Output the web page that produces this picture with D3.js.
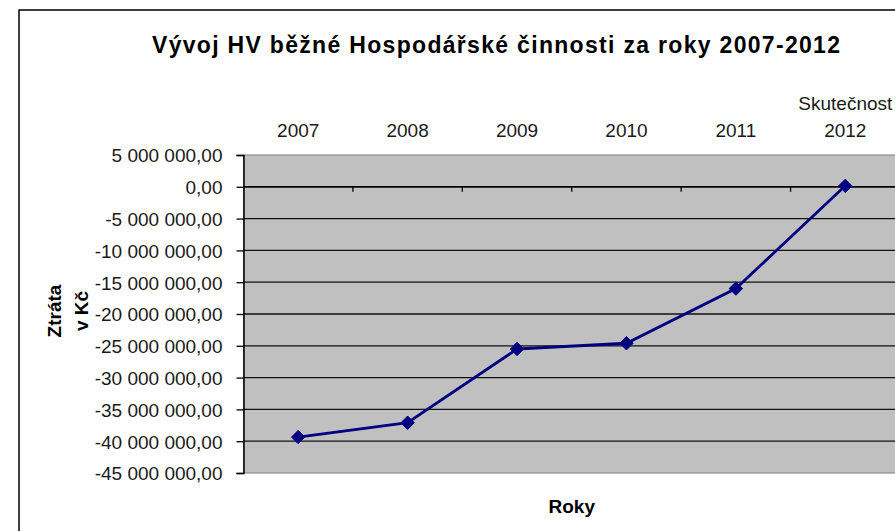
<!DOCTYPE html>
<html>
<head>
<meta charset="utf-8">
<script src="https://cdn.jsdelivr.net/npm/d3@7"></script>
<style>
  body { margin: 0; background: #fff; }
  svg text { font-family: "Liberation Sans", Arial, sans-serif; }
</style>
</head>
<body>
<div id="chart"></div>
<script>
// data
var categories = ["2007", "2008", "2009", "2010", "2011", "2012"];
var catLabels = [["2007"], ["2008"], ["2009"], ["2010"], ["2011"], ["Skutečnost", "2012"]];
var values = [-39350000, -37100000, -25500000, -24600000, -16000000, 150000];
var yDomain = [-45000000, 5000000];

var titleText = "Vývoj HV běžné Hospodářské činnosti za roky 2007-2012";
var yTitle = ["Ztráta", "v Kč"];
var xTitle = "Roky";

var W = 895, H = 531;
var plot = {left: 243.5, top: 155, right: 900, bottom: 473};

var svg = d3.select("#chart")
	.append("svg")
	.attr("width", W)
	.attr("height", H);

// outer chart frame (right and bottom fall outside the picture)
svg.append("rect")
	.attr("x", 19).attr("y", 10)
	.attr("width", 900).attr("height", 540)
	.style("fill", "#fff")
	.style("stroke", "#000")
	.style("stroke-width", 1.5);

var x = d3.scaleBand()
	.domain(categories)
	.range([plot.left, plot.right]);

var y = d3.scaleLinear()
	.domain(yDomain)
	.range([plot.bottom, plot.top]);

// plot area
svg.append("rect")
	.attr("x", plot.left).attr("y", plot.top)
	.attr("width", plot.right - plot.left)
	.attr("height", plot.bottom - plot.top)
	.style("fill", "#c0c0c0")
	.style("stroke", "#808080")
	.style("stroke-width", 1);

var loc = d3.formatLocale({decimal: ",", thousands: "\u00a0", grouping: [3], currency: ["", ""], minus: "-"});
var fmt = loc.format(",.2f");

// gridlines
var yTicks = y.ticks(10);
svg.append("g")
	.selectAll("line")
	.data(yTicks.filter(function(d){ return d > yDomain[0] && d < yDomain[1]; }))
	.enter()
	.append("line")
	.attr("x1", plot.left).attr("x2", plot.right)
	.attr("y1", function(d){ return y(d); })
	.attr("y2", function(d){ return y(d); })
	.style("stroke", "#111")
	.style("stroke-width", 1.3);

// y axis
var yAxis = svg.append("g")
	.attr("transform", "translate(" + plot.left + ",0)")
	.call(d3.axisLeft(y).ticks(10).tickSize(7).tickPadding(14).tickFormat(fmt));
yAxis.select(".domain").style("stroke", "#000").style("stroke-width", 1.5);
yAxis.selectAll(".tick line").style("stroke", "#000").style("stroke-width", 1.3);
yAxis.selectAll(".tick text")
	.style("font-size", "19px")
	.style("fill", "#1a1a1a")
	.attr("dy", "0.36em");

// category axis line at zero, ticks between categories
var x0 = svg.append("g").attr("transform", "translate(0," + y(0) + ")");
x0.append("line")
	.attr("x1", plot.left).attr("x2", plot.right)
	.style("stroke", "#000").style("stroke-width", 1.5);
x0.selectAll(".sep")
	.data(categories.slice(1))
	.enter()
	.append("line")
	.attr("class", "sep")
	.attr("x1", function(d){ return x(d); })
	.attr("x2", function(d){ return x(d); })
	.attr("y1", 0).attr("y2", 5)
	.style("stroke", "#000").style("stroke-width", 1.3);

// category labels above plot
var xAxis = svg.append("g")
	.attr("transform", "translate(0,137)")
	.call(d3.axisTop(x).tickSize(0).tickPadding(0));
xAxis.select(".domain").remove();
xAxis.selectAll(".tick text")
	.style("font-size", "19px")
	.style("fill", "#1a1a1a")
	.attr("dy", 0)
	.text(null)
	.each(function(d, i) {
		var lines = catLabels[i];
		var t = d3.select(this);
		lines.forEach(function(s, j) {
			t.append("tspan")
				.attr("x", 0)
				.attr("y", (j - (lines.length - 1)) * 27)
				.text(s);
		});
	});

// series line + diamond markers
var line = d3.line()
	.x(function(d, i){ return x(categories[i]) + x.bandwidth() / 2; })
	.y(function(d){ return y(d); });

svg.append("path")
	.datum(values)
	.attr("d", line)
	.style("fill", "none")
	.style("stroke", "#000080")
	.style("stroke-width", 2.8);

svg.selectAll(".pt")
	.data(values)
	.enter()
	.append("path")
	.attr("class", "pt")
	.attr("transform", function(d, i){
		return "translate(" + (x(categories[i]) + x.bandwidth() / 2) + "," + y(d) + ")";
	})
	.attr("d", d3.symbol().type(d3.symbolDiamond2).size(115))
	.style("fill", "#000080")
	.style("stroke", "#000080")
	.style("stroke-width", 1);

// title
svg.append("text")
	.attr("x", 496).attr("y", 53)
	.attr("text-anchor", "middle")
	.attr("textLength", 688)
	.attr("lengthAdjust", "spacing")
	.style("font-size", "23px")
	.style("font-weight", "bold")
	.style("fill", "#000")
	.text(titleText);

// y title
var yt = svg.append("text")
	.attr("transform", "translate(61,311) rotate(-90)")
	.attr("text-anchor", "middle")
	.style("font-size", "19px")
	.style("font-weight", "bold")
	.style("fill", "#000");
yTitle.forEach(function(s, j) {
	yt.append("tspan").attr("x", 0).attr("y", j * 27).text(s);
});

// x title
svg.append("text")
	.attr("x", (plot.left + plot.right) / 2).attr("y", 513)
	.attr("text-anchor", "middle")
	.style("font-size", "19px")
	.style("font-weight", "bold")
	.style("fill", "#000")
	.text(xTitle);
</script>
</body>
</html>
